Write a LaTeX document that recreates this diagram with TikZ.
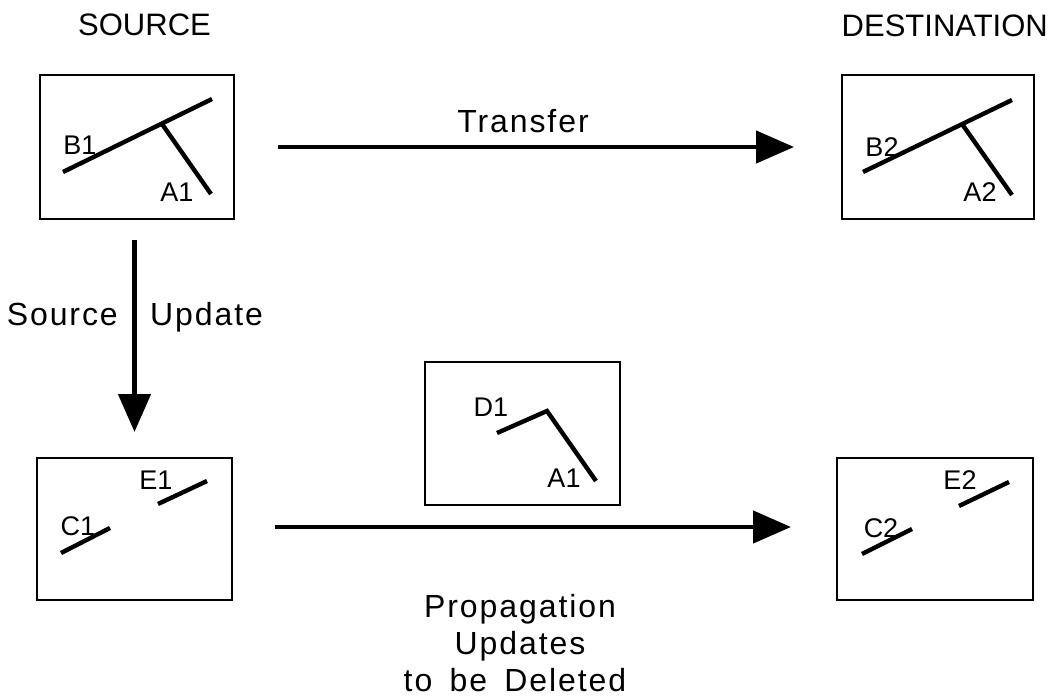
\documentclass[tikz,border=0pt]{standalone}
\usepackage{fontspec}
\setmainfont{Liberation Sans}
\newfontfamily\trackedfont[LetterSpace=6,WordSpace=1.6]{Liberation Sans}
\usetikzlibrary{arrows.meta}

\tikzset{
  frame/.style={draw, line width=2.9pt, rectangle, outer sep=0pt, inner sep=0pt},
  seg/.style={line width=4.4pt},
  flow/.style={line width=4.6pt, -{Triangle[length=38pt,width=32pt]}},
  tag/.style={inner sep=0pt, font=\fontsize{27}{30}\selectfont},
  caption/.style={inner sep=0pt, font=\trackedfont\fontsize{32}{37}\selectfont},
  header/.style={inner sep=0pt, font=\fontsize{31}{37}\selectfont}
}

\begin{document}
\begin{tikzpicture}[x=1pt,y=-1pt]
  \useasboundingbox (0,0) rectangle (1055,698);

  % column headers
  \node[header, anchor=base west] (src) at (78,36) {SOURCE};
  \node[header, anchor=base east] (dst) at (1048,37) {DESTINATION};

  % the five boxes
  \node[frame, minimum width=194pt, minimum height=144pt] (box1) at (137,147) {};
  \node[frame, minimum width=192pt, minimum height=144pt] (box2) at (938,147) {};
  \node[frame, minimum width=195pt, minimum height=142pt] (box3) at (134.5,529) {};
  \node[frame, minimum width=196pt, minimum height=142pt] (box5) at (935,529) {};
  \node[frame, minimum width=195pt, minimum height=143pt] (boxd) at (522.5,433.5) {};

  % source geometry before the update
  \draw[seg] (63,172) -- (212,99);
  \draw[seg] (162,124) -- (211,194);
  \node[tag] (b1) at (80,145) {B1};
  \node[tag] (a1) at (177,192) {A1};

  % transferred copy
  \draw[seg] (863,172) -- (1012,100);
  \draw[seg] (962,124) -- (1012,195);
  \node[tag] (b2) at (882,147) {B2};
  \node[tag] (a2) at (980,192) {A2};

  % source geometry after the update
  \draw[seg] (61,553) -- (110,528);
  \draw[seg] (158,504) -- (207,481);
  \node[tag] (c1) at (78,526) {C1};
  \node[tag] (e1) at (156,480) {E1};

  % features to be deleted
  \draw[seg] (497,433) -- (547,411) -- (596,481);
  \node[tag] (d1) at (491,407) {D1};
  \node[tag] (a1d) at (564,478) {A1};

  % destination after propagation
  \draw[seg] (862,554) -- (912,529);
  \draw[seg] (959,506) -- (1009,482);
  \node[tag] (c2) at (881,528) {C2};
  \node[tag] (e2) at (960,480) {E2};

  % connectors
  \draw[flow, shorten <=44pt, shorten >=48pt] (box1.east) -- (box2.west);
  \draw[flow, shorten <=21pt, shorten >=26pt] (box1.south -| box3.north) -- (box3.north);
  \draw[flow, shorten <=43pt, shorten >=46pt] ([yshift=2pt]box3.east) -- ([yshift=2pt]box5.west);

  % connector labels
  \node[caption, anchor=base] (transfer) at (523,133) {Transfer};
  \node[caption, anchor=base east] (srcup) at (118,325) {Source};
  \node[caption, anchor=base west] (upd) at (150,325) {Update};
  \node[caption, anchor=base] (prop1) at (520,617) {Propagation};
  \node[caption, anchor=base] (prop2) at (520,654) {Updates};
  \node[caption, anchor=base] (prop3) at (515,691) {to be Deleted};
\end{tikzpicture}
\end{document}
